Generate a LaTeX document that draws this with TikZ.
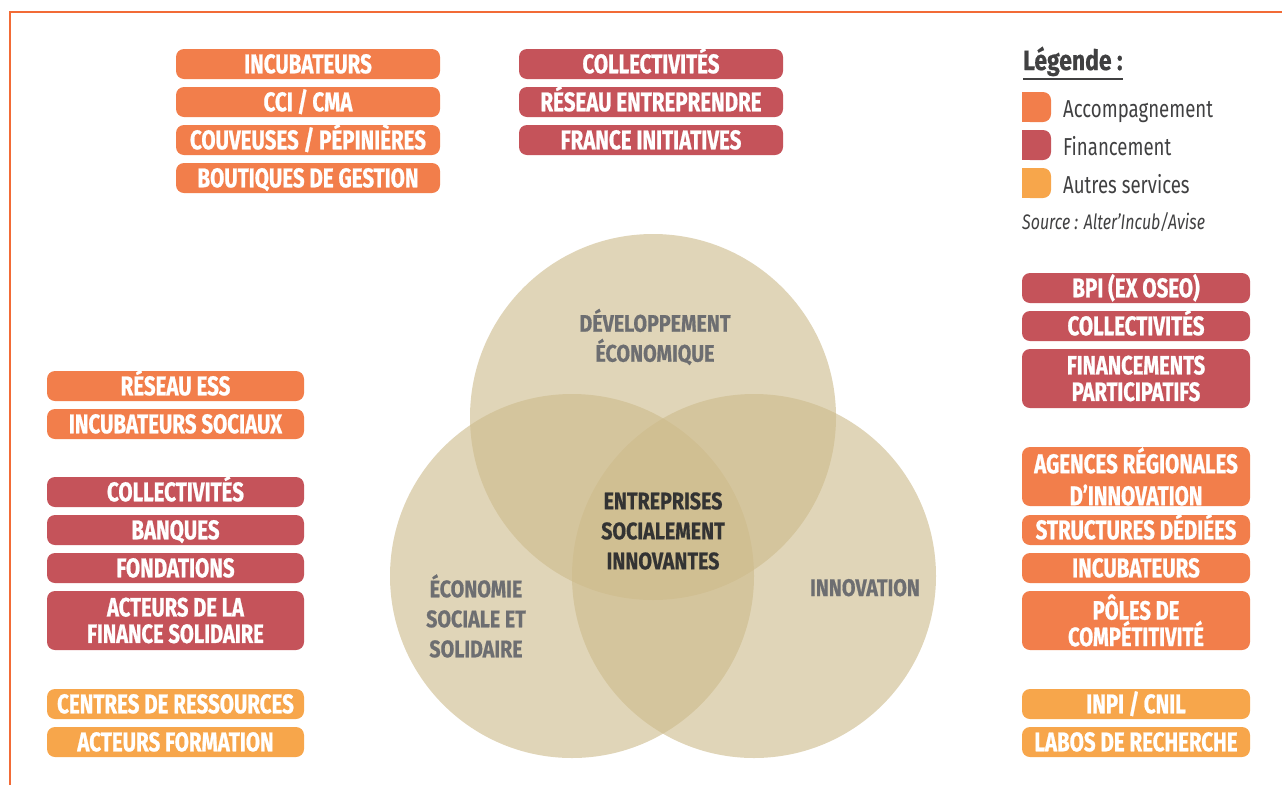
\documentclass[tikz,border=0pt]{standalone}
\usepackage{fontspec}
\setmainfont{Fira Sans}[FakeStretch=0.76]
\newfontfamily\boxf{Fira Sans}[FakeStretch=0.76, BoldFeatures={FakeBold=0.8}]
\newfontfamily\circf{Fira Sans}[FakeStretch=0.82, BoldFeatures={FakeBold=0.6}]
\definecolor{acc}{HTML}{F27E4B}
\definecolor{fin}{HTML}{C5535A}
\definecolor{aut}{HTML}{F7A64B}
\definecolor{frame}{HTML}{F26B36}
\definecolor{circ}{HTML}{CDBB8C}
\definecolor{lbl}{HTML}{6D6E71}
\definecolor{dark}{HTML}{333333}
\definecolor{legtxt}{HTML}{404041}
\begin{document}
\begin{tikzpicture}[x=1pt,y=-1pt,
  box/.style={rounded corners=8pt, text=white, inner sep=0pt, align=center,
    font=\boxf\bfseries\fontsize{27}{24}\selectfont},
  one/.style={box, minimum height=30pt, text height=18.5pt, text depth=0pt},
  two/.style={box, minimum height=59pt, font=\boxf\bfseries\fontsize{26.5}{26.5}\selectfont},
  colA/.style={minimum width=264pt},
  colL/.style={minimum width=257pt},
  colR/.style={minimum width=228pt},
  circlbl/.style={align=center, text=lbl, font=\circf\bfseries\fontsize{24}{30}\selectfont},
  legitem/.style={anchor=base west, text=legtxt, inner sep=0pt, font=\fontsize{24.5}{24}\selectfont}]
\useasboundingbox (0,0) rectangle (1282,785);
\draw[frame, line width=2.5pt] (10,785) -- (10,12) -- (1282,12);

% Venn circles
\fill[circ, opacity=0.62] (653,417) circle[radius=183pt];
\fill[circ, opacity=0.62] (572,576) circle[radius=182pt];
\fill[circ, opacity=0.62] (754,576) circle[radius=182pt];
\node[circlbl] (dev) at (655,337) {DÉVELOPPEMENT\\ÉCONOMIQUE};
\node[circlbl, text=dark] (esi) at (663,531) {ENTREPRISES\\SOCIALEMENT\\INNOVANTES};
\node[circlbl] (ess) at (476,616) {ÉCONOMIE\\SOCIALE ET\\SOLIDAIRE};
\node[circlbl, anchor=base] (inno) at (865,596) {INNOVATION};

% top left
\node[one, colA, fill=acc] (tl1) at (308,64) {INCUBATEURS};
\node[one, colA, fill=acc] (tl2) at (308,102) {CCI\,/\,CMA};
\node[one, colA, fill=acc] (tl3) at (308,140) {COUVEUSES / PÉPINIÈRES};
\node[one, colA, fill=acc] (tl4) at (308,178) {BOUTIQUES DE GESTION};
% top middle
\node[one, colA, fill=fin] (tm1) at (651,64) {COLLECTIVITÉS};
\node[one, colA, fill=fin] (tm2) at (651,102) {RÉSEAU ENTREPRENDRE};
\node[one, colA, fill=fin] (tm3) at (651,140) {FRANCE INITIATIVES};
% left column
\node[one, colL, fill=acc] (l1) at (175.5,386) {RÉSEAU ESS};
\node[one, colL, fill=acc] (l2) at (175.5,424) {INCUBATEURS SOCIAUX};
\node[one, colL, fill=fin] (l3) at (175.5,492) {COLLECTIVITÉS};
\node[one, colL, fill=fin] (l4) at (175.5,530) {BANQUES};
\node[one, colL, fill=fin] (l5) at (175.5,568) {FONDATIONS};
\node[two, colL, fill=fin] (l6) at (175.5,620.5) {ACTEURS DE LA\\FINANCE SOLIDAIRE};
\node[one, colL, fill=aut] (l7) at (175.5,704) {CENTRES DE RESSOURCES};
\node[one, colL, fill=aut] (l8) at (175.5,742) {ACTEURS FORMATION};
% right column
\node[one, colR, fill=fin] (r1) at (1136,288) {BPI (EX OSEO)};
\node[one, colR, fill=fin] (r2) at (1136,326) {COLLECTIVITÉS};
\node[two, colR, fill=fin] (r3) at (1136,378.5) {FINANCEMENTS\\PARTICIPATIFS};
\node[two, colR, fill=acc, font=\boxf\bfseries\fontsize{27}{32}\selectfont] (r4) at (1136,476.5) {AGENCES RÉGIONALES\\D’INNOVATION};
\node[one, colR, fill=acc] (r5) at (1136,530) {STRUCTURES DÉDIÉES};
\node[one, colR, fill=acc] (r6) at (1136,568) {INCUBATEURS};
\node[two, colR, fill=acc] (r7) at (1136,620.5) {PÔLES DE\\COMPÉTITIVITÉ};
\node[one, colR, fill=aut] (r8) at (1136,704) {INPI\,/\,CNIL};
\node[one, colR, fill=aut] (r9) at (1136,742) {LABOS DE RECHERCHE};

% legend
\node[anchor=base west, inner sep=0pt, text=legtxt, font=\circf\bfseries\fontsize{28}{28}\selectfont] (leg) at (1023,70) {Légende :};
\draw[legtxt, line width=1.3pt] (leg.west |- 0,79) -- (leg.east |- 0,79);
\foreach \c/\y in {acc/92, fin/130, aut/168}{
  \fill[\c, rounded corners=8pt] (1022,\y) rectangle (1051,\y+30);
  \fill[\c] (1022,\y) rectangle (1036,\y+30);
}
\node[legitem] (la) at (1063,117) {Accompagnement};
\node[legitem] (lf) at (1063,155) {Financement};
\node[legitem] (lo) at (1063,193) {Autres services};
\node[anchor=base west, inner sep=0pt, text=legtxt, font=\itshape\fontsize{21}{21}\selectfont] (src) at (1022,229) {Source : Alter’Incub/Avise};
\end{tikzpicture}
\end{document}
